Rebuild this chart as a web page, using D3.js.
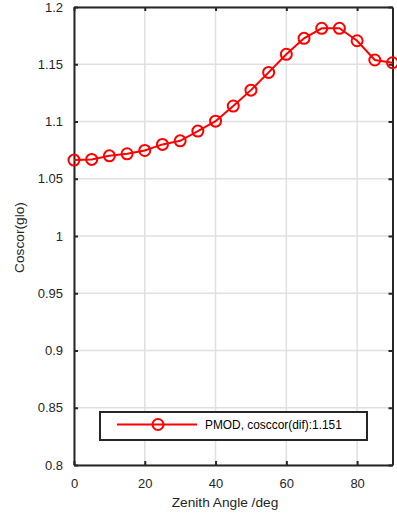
<!DOCTYPE html>
<html><head><meta charset="utf-8">
<script src="https://cdn.jsdelivr.net/npm/d3@7"></script>
<style>body{margin:0;background:#fff}svg{display:block}</style>
</head><body>
<script>
const angles = [0,5,10,15,20,25,30,35,40,45,50,55,60,65,70,75,80,85,90];
const coscor = [1.0663,1.0669,1.0700,1.0718,1.0747,1.0800,1.0831,1.0916,1.1003,1.1135,1.1274,1.1429,1.1587,1.1726,1.1814,1.1814,1.1705,1.1537,1.1513];
const xTicks = [0,20,40,60,80];
const yTicks = [0.8,0.85,0.9,0.95,1,1.05,1.1,1.15,1.2];
const legendLabel = "PMOD, cosccor(dif):1.151";

const W=397,H=518;
const m={l:74,r:392.5,t:7,b:465};
const svg=d3.select("body").append("svg").attr("width",W).attr("height",H);
const x=d3.scaleLinear().domain([0,90]).range([m.l,m.r]);
const y=d3.scaleLinear().domain([0.8,1.2]).range([m.b,m.t]);
const font="'Liberation Sans', Arial, Helvetica, sans-serif";

// grid
svg.append("g").selectAll("line").data(xTicks).join("line")
 .attr("x1",d=>x(d)).attr("x2",d=>x(d)).attr("y1",m.t).attr("y2",m.b)
 .attr("stroke","#e0e0e0").attr("stroke-width",1.5);
svg.append("g").selectAll("line").data(yTicks).join("line")
 .attr("y1",d=>y(d)).attr("y2",d=>y(d)).attr("x1",m.l).attr("x2",m.r)
 .attr("stroke","#e0e0e0").attr("stroke-width",1.5);

// axes
const fmt=d=>String(d);
const ax=svg.append("g").attr("transform",`translate(0,${m.b})`)
 .call(d3.axisBottom(x).tickValues(xTicks).tickFormat(fmt).tickSizeInner(-4).tickSizeOuter(0).tickPadding(14));
const axT=svg.append("g").attr("transform",`translate(0,${m.t})`)
 .call(d3.axisTop(x).tickValues(xTicks).tickFormat("").tickSizeInner(-4).tickSizeOuter(0));
const ay=svg.append("g").attr("transform",`translate(${m.l},0)`)
 .call(d3.axisLeft(y).tickValues(yTicks).tickFormat(fmt).tickSizeInner(-4).tickSizeOuter(0).tickPadding(11));
const ayR=svg.append("g").attr("transform",`translate(${m.r},0)`)
 .call(d3.axisRight(y).tickValues(yTicks).tickFormat("").tickSizeInner(-4).tickSizeOuter(0));
[ax,axT,ay,ayR].forEach(g=>{
  g.select(".domain").attr("stroke","#262626").attr("stroke-width",2);
  g.selectAll(".tick line").attr("stroke","#262626").attr("stroke-width",2);
  g.selectAll("text").attr("fill","#262626").style("font-family",font).style("font-size","13px");
});

// labels
svg.append("text").attr("x",225).attr("y",506.5).attr("text-anchor","middle")
 .style("font-family",font).style("font-size","13.7px").attr("fill","#262626").text("Zenith Angle /deg");
svg.append("text").attr("transform",`translate(23.5,237.5) rotate(-90)`).attr("text-anchor","middle")
 .style("font-family",font).style("font-size","13.7px").attr("fill","#262626").text("Coscor(glo)");

// series
const pts=angles.map((a,i)=>[a,coscor[i]]);
svg.append("path").datum(pts).attr("fill","none").attr("stroke","#ff0000").attr("stroke-width",2)
 .attr("d",d3.line().x(d=>x(d[0])).y(d=>y(d[1])));
svg.append("g").selectAll("circle").data(pts).join("circle")
 .attr("cx",d=>x(d[0])).attr("cy",d=>y(d[1])).attr("r",5.5)
 .attr("fill","none").attr("stroke","#ff0000").attr("stroke-width",2);

// legend
const lg=svg.append("g");
lg.append("rect").attr("x",100).attr("y",412).attr("width",267).attr("height",28)
 .attr("fill","#fff").attr("stroke","#262626").attr("stroke-width",2);
lg.append("line").attr("x1",117).attr("x2",197).attr("y1",424.5).attr("y2",424.5)
 .attr("stroke","#ff0000").attr("stroke-width",2);
lg.append("circle").attr("cx",158).attr("cy",424.5).attr("r",5.5).attr("fill","none")
 .attr("stroke","#ff0000").attr("stroke-width",2);
lg.append("text").attr("x",205).attr("y",429).style("font-family",font).style("font-size","11.9px")
 .attr("fill","#000").text(legendLabel);
</script>
</body></html>
